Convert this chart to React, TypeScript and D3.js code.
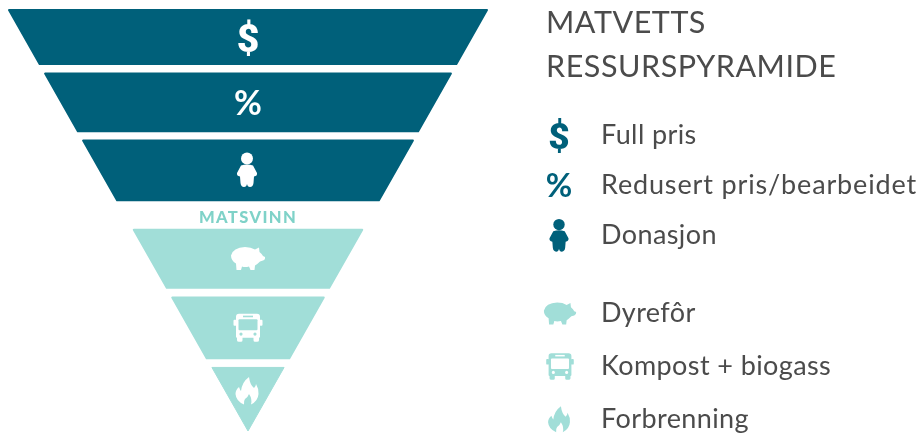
import React from "react";
import * as d3 from "d3";

// pyramid tiers, read as depth from the wide top (0) to the tip (100)
const tierNames = ["Full pris", "Redusert pris/bearbeidet", "Donasjon", "Dyrefôr", "Kompost + biogass", "Forbrenning"];
const tierStart = [0, 15.1, 31, 52.2, 68.3, 84.9];
const tierEnd = [12.8, 28.8, 45.2, 66, 82.7, 100];
const tierIconDepth = [6.6, 22, 38, 59, 75.5, 90.5];
const tierIcons = ["dollar", "percent", "person", "pig", "bus", "flame"];
const tierGroup = ["rescue", "rescue", "rescue", "waste", "waste", "waste"];

const titleLines = ["MATVETTS", "RESSURSPYRAMIDE"];
const wasteLabel = "MATSVINN";

const DARK = "#02607a";
const LIGHT = "#a1ded8";
const TEXT = "#4b4b4b";
const FONT = "Lato, 'Open Sans', sans-serif";

const cx = 248;
const depthY = d3.scaleLinear().domain([0, 100]).range([10, 431]);
const halfWidth = d3.scaleLinear().domain([0, 100]).range([239, 0]);
const colour = d3.scaleOrdinal<string, string>().domain(["rescue", "waste"]).range([DARK, LIGHT]);

// legend has two groups of rows, each evenly spaced
const rescueRows = d3.scalePoint<string>().domain(tierNames.slice(0, 3)).range([144, 244]);
const wasteRows = d3.scalePoint<string>().domain(tierNames.slice(3)).range([322, 428]);
const legendY = (name: string) => rescueRows(name) ?? wasteRows(name) ?? 0;

const line = d3.line();

function tierPath(i: number) {
  const a = tierStart[i];
  const b = tierEnd[i];
  const pts: [number, number][] = [
    [cx - halfWidth(a), depthY(a)],
    [cx + halfWidth(a), depthY(a)],
    [cx + halfWidth(b), depthY(b)],
    [cx - halfWidth(b), depthY(b)],
  ];
  return line(pts) + "Z";
}

// icons are drawn in a box centred on 0,0, about 32 units wide
function Icon({ kind, fill, hole, x, y, s }: { kind: string; fill: string; hole: string; x: number; y: number; s: number }) {
  const t = `translate(${x},${y}) scale(${s})`;
  if (kind === "dollar") {
    return (
      <text x={x} y={y + 14 * s} textAnchor="middle" fontFamily="Roboto, sans-serif" fontWeight={900} fontSize={39 * s} fill={fill}>
        $
      </text>
    );
  }
  if (kind === "percent") {
    return (
      <text x={x} y={y + 12 * s} textAnchor="middle" fontFamily={FONT} fontWeight={700} fontSize={34 * s} fill={fill}>
        %
      </text>
    );
  }
  if (kind === "person") {
    return (
      <g transform={t} fill={fill}>
        <circle cx={0} cy={-11.5} r={6} />
        <path d="M-6 -4.5 Q0 -6.5 6 -4.5 L10 3 Q10.5 6 7 6.5 L6.5 13 Q6 17 3 17 Q0.5 17 0 14 Q-0.5 17 -3 17 Q-6 17 -6.5 13 L-7 6.5 Q-10.5 6 -10 3 Z" />
      </g>
    );
  }
  if (kind === "pig") {
    return (
      <g transform={t} fill={fill}>
        <path d="M-17 -3 Q-15 -11 -3 -11.5 Q3 -11.5 7 -9 L11 -11 L11.5 -6.5 Q14 -4.5 15 -2.5 L17 -1.5 Q17.5 1 15 2 L12 3 Q9 6 7 7 L6.5 11.5 L2.5 11.5 L1 8 Q-3 9 -6 8 L-7 11.5 L-11.5 11.5 L-12 5 Q-17 2 -17 -3 Z" />
      </g>
    );
  }
  if (kind === "bus") {
    return (
      <g transform={t}>
        <path fill={fill} d="M-12 -11 Q-12 -14 -9 -14 L9 -14 Q12 -14 12 -11 L12 9 Q12 10 11 10 L11 12.5 Q11 14 9 14 L7 14 Q5.5 14 5.5 12.5 L5.5 10 L-5.5 10 L-5.5 12.5 Q-5.5 14 -7 14 L-9 14 Q-11 14 -11 12.5 L-11 10 Q-12 10 -12 9 Z" />
        <rect x={-14.5} y={-8} width={3} height={6} rx={1} fill={fill} />
        <rect x={11.5} y={-8} width={3} height={6} rx={1} fill={fill} />
        <rect x={-9.5} y={-8.5} width={19} height={11} rx={1} fill={hole} />
        <rect x={-5} y={-12.2} width={10} height={1.6} fill={hole} />
        <circle cx={-7} cy={6.2} r={1.6} fill={hole} />
        <circle cx={7} cy={6.2} r={1.6} fill={hole} />
      </g>
    );
  }
  return (
    <g transform={t}>
      <path fill={fill} d="M2 -14 Q3 -6 7 -3 Q9 -5 9 -7 Q12 -2 11.5 3 Q11 10 4 13.5 Q5.5 8 2 3 Q1 6 -2 8 Q-3.5 10 -3 13.5 Q-11 10 -11.5 3 Q-11.5 -1 -8 -4 Q-7 -1 -6 0 Q-5 -9 2 -14 Z" />
    </g>
  );
}

export default function App() {
  return (
    <svg width={922} height={433} style={{ position: "absolute", left: 0, top: 0, background: "#fff" }}>
      <defs>
        <filter id="soft" x="-2%" y="-2%" width="104%" height="104%">
          <feGaussianBlur stdDeviation="0.55" />
        </filter>
      </defs>
      <g filter="url(#soft)">
        {tierNames.map((name, i) => (
          <path
            key={name}
            d={tierPath(i)}
            fill={colour(tierGroup[i])}
            stroke={colour(tierGroup[i])}
            strokeWidth={i === 5 ? 1 : 2}
            strokeLinejoin="round"
          />
        ))}
        {tierNames.map((name, i) => (
          <Icon
            key={name}
            kind={tierIcons[i]}
            fill="#fff"
            hole={colour(tierGroup[i])}
            x={i === 2 || i === 5 ? cx - 1 : cx}
            y={depthY(tierIconDepth[i])}
            s={1}
          />
        ))}
        <text x={cx} y={223} textAnchor="middle" fontFamily={FONT} fontWeight={900} fontSize={16.5} letterSpacing={1.4} fill="#7fd2c8">
          {wasteLabel}
        </text>
        {titleLines.map((t, i) => (
          <text key={t} x={546} y={33 + i * 44} fontFamily={FONT} fontSize={30.5} fill={TEXT} letterSpacing={0.55}>
            {t}
          </text>
        ))}
        {tierNames.map((name, i) => (
          <g key={name}>
            <Icon
              kind={tierIcons[i]}
              fill={colour(tierGroup[i])}
              hole="#fff"
              x={i === 3 || i === 4 ? 560 : 559}
              y={legendY(name) - 8.5}
              s={0.95}
            />
            <text x={601} y={legendY(name)} fontFamily={FONT} fontSize={27} fill={TEXT} letterSpacing={i === 1 ? 0.85 : 0.4}>
              {name}
            </text>
          </g>
        ))}
      </g>
    </svg>
  );
}
